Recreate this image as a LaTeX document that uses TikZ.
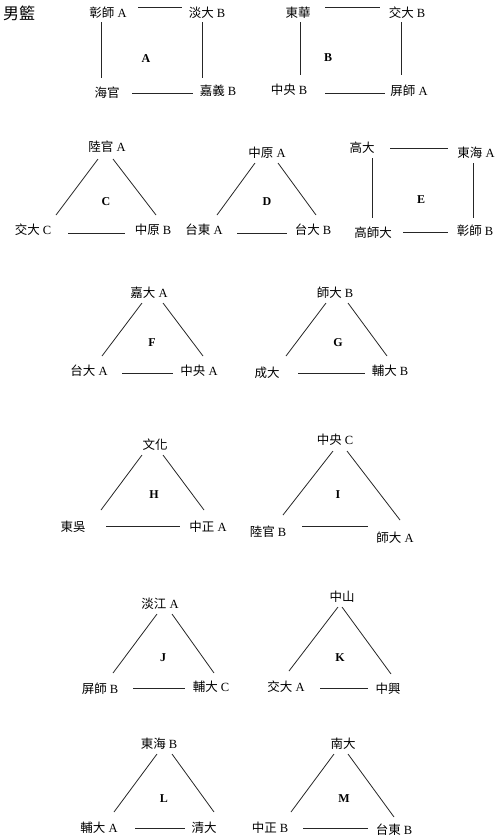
\documentclass[tikz,border=0pt]{standalone}
\usepackage{fontspec}
\setmainfont{Liberation Serif}
\newfontfamily\cjk{Noto Sans CJK TC}
\usepackage{tikz}

\tikzset{team/.style={inner sep=0pt,font=\fontsize{12.5}{13}\selectfont},
grp/.style={inner sep=0pt,font=\bfseries\fontsize{12}{13}\selectfont},
link/.style={line width=0.8pt,draw=black!85}}

\begin{document}
\begin{tikzpicture}[x=1pt,y=-1pt]
\useasboundingbox (0,0) rectangle (500,839);
\node at (19,13) [inner sep=0pt,font=\cjk\fontsize{16}{17}\selectfont](head){男籃};
% group A
\node at (108,13) [team](a1){{\cjk 彰師} A};
\node at (207,13) [team](a2){{\cjk 淡大} B};
\node at (107,93) [team](a3){{\cjk 海官}};
\node at (218,91) [team](a4){{\cjk 嘉義} B};
\node at (146,59) [grp](la){A};
\draw[link] ([shift={(30,-6)}]a1.center) -- ([shift={(-25,-6)}]a2.center);
\draw[link] ([shift={(-7,9)}]a1.center) -- ([shift={(-6,-15)}]a3.center);
\draw[link] ([shift={(-5,9)}]a2.center) -- ([shift={(-16,-13)}]a4.center);
\draw[link] ([shift={(25,0)}]a3.center) -- ([shift={(-25,2)}]a4.center);
% group B
\node at (298,13) [team](b1){{\cjk 東華}};
\node at (407,13) [team](b2){{\cjk 交大} B};
\node at (289,90) [team](b3){{\cjk 中央} B};
\node at (409,91) [team](b4){{\cjk 屏師} A};
\node at (328,58) [grp](lb){B};
\draw[link] ([shift={(27,-6)}]b1.center) -- ([shift={(-27,-6)}]b2.center);
\draw[link] ([shift={(2,9)}]b1.center) -- ([shift={(11,-15)}]b3.center);
\draw[link] ([shift={(-6,9)}]b2.center) -- ([shift={(-8,-16)}]b4.center);
\draw[link] ([shift={(36,3)}]b3.center) -- ([shift={(-24,2)}]b4.center);
% group C
\node at (107,147) [team](c1){{\cjk 陸官} A};
\node at (33,230) [team](c2){{\cjk 交大} C};
\node at (153,230) [team](c3){{\cjk 中原} B};
\node at (106,202) [grp](lc){C};
\draw[link] ([shift={(-9,12)}]c1.center) -- ([shift={(23,-15)}]c2.center);
\draw[link] ([shift={(6,12)}]c1.center) -- ([shift={(3,-15)}]c3.center);
\draw[link] ([shift={(35,3)}]c2.center) -- ([shift={(-28,3)}]c3.center);
% group D
\node at (267,153) [team](d1){{\cjk 中原} A};
\node at (204,230) [team](d2){{\cjk 台東} A};
\node at (313,230) [team](d3){{\cjk 台大} B};
\node at (267,202) [grp](ld){D};
\draw[link] ([shift={(-12,10)}]d1.center) -- ([shift={(13,-15)}]d2.center);
\draw[link] ([shift={(11,10)}]d1.center) -- ([shift={(3,-15)}]d3.center);
\draw[link] ([shift={(33,3)}]d2.center) -- ([shift={(-26,3)}]d3.center);
% group E
\node at (362,148) [team](e1){{\cjk 高大}};
\node at (476,153) [team](e2){{\cjk 東海} A};
\node at (373,233) [team](e3){{\cjk 高師大}};
\node at (475,231) [team](e4){{\cjk 彰師} B};
\node at (421,200) [grp](le){E};
\draw[link] ([shift={(28,0)}]e1.center) -- ([shift={(-28,-5)}]e2.center);
\draw[link] ([shift={(10,10)}]e1.center) -- ([shift={(-1,-15)}]e3.center);
\draw[link] ([shift={(-3,10)}]e2.center) -- ([shift={(-2,-13)}]e4.center);
\draw[link] ([shift={(30,-1)}]e3.center) -- ([shift={(-27,1)}]e4.center);
% group F
\node at (149,293) [team](f1){{\cjk 嘉大} A};
\node at (89,371) [team](f2){{\cjk 台大} A};
\node at (199,371) [team](f3){{\cjk 中央} A};
\node at (152,343) [grp](lf){F};
\draw[link] ([shift={(-7,10)}]f1.center) -- ([shift={(13,-15)}]f2.center);
\draw[link] ([shift={(14,10)}]f1.center) -- ([shift={(4,-15)}]f3.center);
\draw[link] ([shift={(33,2)}]f2.center) -- ([shift={(-26,2)}]f3.center);
% group G
\node at (335,293) [team](g1){{\cjk 師大} B};
\node at (267,373) [team](g2){{\cjk 成大}};
\node at (390,371) [team](g3){{\cjk 輔大} B};
\node at (338,343) [grp](lg){G};
\draw[link] ([shift={(-9,10)}]g1.center) -- ([shift={(19,-17)}]g2.center);
\draw[link] ([shift={(13,10)}]g1.center) -- ([shift={(-3,-15)}]g3.center);
\draw[link] ([shift={(31,0)}]g2.center) -- ([shift={(-25,2)}]g3.center);
% group H
\node at (155,445) [team](h1){{\cjk 文化}};
\node at (73,527) [team](h2){{\cjk 東吳}};
\node at (208,527) [team](h3){{\cjk 中正} A};
\node at (154,495) [grp](lh){H};
\draw[link] ([shift={(-13,10)}]h1.center) -- ([shift={(28,-17)}]h2.center);
\draw[link] ([shift={(8,10)}]h1.center) -- ([shift={(-4,-17)}]h3.center);
\draw[link] ([shift={(33,-1)}]h2.center) -- ([shift={(-28,-1)}]h3.center);
% group I
\node at (335,440) [team](i1){{\cjk 中央} C};
\node at (268,532) [team](i2){{\cjk 陸官} B};
\node at (395,538) [team](i3){{\cjk 師大} A};
\node at (338,495) [grp](li){I};
\draw[link] ([shift={(-2,11)}]i1.center) -- ([shift={(15,-17)}]i2.center);
\draw[link] ([shift={(12,11)}]i1.center) -- ([shift={(5,-18)}]i3.center);
\draw[link] ([shift={(34,-6)}]i2.center) -- ([shift={(-27,-12)}]i3.center);
% group J
\node at (160,604) [team](j1){{\cjk 淡江} A};
\node at (100,689) [team](j2){{\cjk 屏師} B};
\node at (211,687) [team](j3){{\cjk 輔大} C};
\node at (163,658) [grp](lj){J};
\draw[link] ([shift={(-3,10)}]j1.center) -- ([shift={(13,-16)}]j2.center);
\draw[link] ([shift={(12,10)}]j1.center) -- ([shift={(3,-14)}]j3.center);
\draw[link] ([shift={(33,-1)}]j2.center) -- ([shift={(-26,1)}]j3.center);
% group K
\node at (342,597) [team](k1){{\cjk 中山}};
\node at (286,687) [team](k2){{\cjk 交大} A};
\node at (388,689) [team](k3){{\cjk 中興}};
\node at (340,658) [grp](lk){K};
\draw[link] ([shift={(-4,10)}]k1.center) -- ([shift={(3,-16)}]k2.center);
\draw[link] ([shift={(0,10)}]k1.center) -- ([shift={(3,-15)}]k3.center);
\draw[link] ([shift={(34,1)}]k2.center) -- ([shift={(-20,-1)}]k3.center);
% group L
\node at (159,744) [team](l1){{\cjk 東海} B};
\node at (99,828) [team](l2){{\cjk 輔大} A};
\node at (204,828) [team](l3){{\cjk 清大}};
\node at (164,799) [grp](ll){L};
\draw[link] ([shift={(-2,10)}]l1.center) -- ([shift={(15,-16)}]l2.center);
\draw[link] ([shift={(13,10)}]l1.center) -- ([shift={(10,-16)}]l3.center);
\draw[link] ([shift={(36,0)}]l2.center) -- ([shift={(-19,0)}]l3.center);
% group M
\node at (343,744) [team](m1){{\cjk 南大}};
\node at (270,828) [team](m2){{\cjk 中正} B};
\node at (394,830) [team](m3){{\cjk 台東} B};
\node at (344,799) [grp](lm){M};
\draw[link] ([shift={(-9,10)}]m1.center) -- ([shift={(21,-16)}]m2.center);
\draw[link] ([shift={(5,10)}]m1.center) -- ([shift={(0,-13)}]m3.center);
\draw[link] ([shift={(33,0)}]m2.center) -- ([shift={(-26,-2)}]m3.center);
\end{tikzpicture}
\end{document}
